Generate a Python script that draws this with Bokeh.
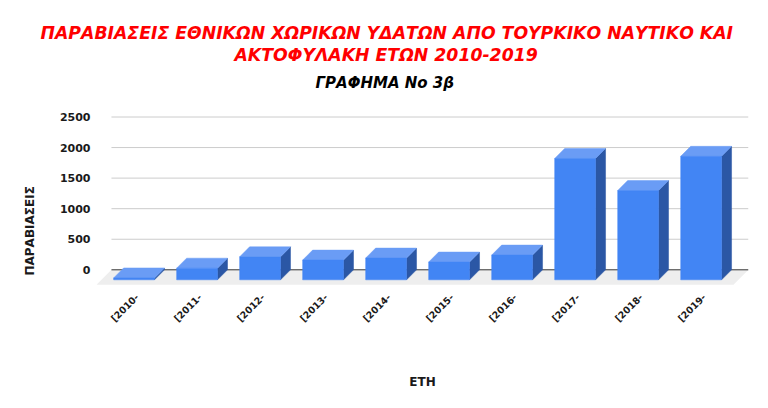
import math
from bokeh.plotting import figure
from bokeh.models import FixedTicker, Title
from bokeh.embed import file_html
from bokeh.resources import INLINE

# ---- data ----
categories = ["[2010-", "[2011-", "[2012-", "[2013-", "[2014-",
              "[2015-", "[2016-", "[2017-", "[2018-", "[2019-"]
values = [30, 190, 376, 322, 355, 290, 404, 1985, 1460, 2020]
y_ticks = [0, 500, 1000, 1500, 2000, 2500]

title_line1 = "ΠΑΡΑΒΙΑΣΕΙΣ ΕΘΝΙΚΩΝ ΧΩΡΙΚΩΝ ΥΔΑΤΩΝ ΑΠΟ ΤΟΥΡΚΙΚΟ ΝΑΥΤΙΚΟ ΚΑΙ"
title_line2 = "ΑΚΤΟΦΥΛΑΚΗ ΕΤΩΝ 2010-2019"
subtitle = "ΓΡΑΦΗΜΑ  Νο 3β"
y_title = "ΠΑΡΑΒΙΑΣΕΙΣ"
x_title = "ΕΤΗ"

# ---- layout ----
W, H = 768, 408
FW, FH = 654, 187
BL, BT = 94, 98
BR = W - BL - FW
BB = H - BT - FH
PXC = 63.2                      # pixels per category
X0 = (94 - 134.7) / PXC
X1 = X0 + FW / PXC
PXY = (269.3 - 116.5) / 2500    # pixels per unit
Y0 = -(285 - 269.3) / PXY
Y1 = Y0 + FH / PXY

FRONT = "#4285F4"
TOP = "#6A9CF5"
SIDE = "#2B57A5"
FLOOR = "#EEEEEE"
GRID = "#CCCCCC"
BASE = "#333333"
FONT = "DejaVu Sans"
TXT = "#1a1a1a"

p = figure(width=W, height=H, x_range=(X0, X1), y_range=(Y0, Y1),
           output_backend="svg", toolbar_location=None,
           min_border_left=BL, min_border_right=BR,
           min_border_top=BT, min_border_bottom=BB)
p.outline_line_color = None
p.xgrid.visible = False
p.ygrid.visible = False
p.background_fill_color = "white"

# the figure's own title is the outermost line
p.title.text = title_line1
p.title.align = "left"
p.title.offset = -56
p.title.standoff = 0
p.title.text_font = FONT
p.title.text_font_style = "bold italic"
p.title.text_font_size = "17.3px"
p.title.text_color = "#FF0000"

# added titles stack outward from the frame: subtitle first, then line 2
def add_title(text, size, color, offset, standoff=0):
    p.add_layout(Title(text=text, align="left", offset=offset, standoff=standoff,
                       text_font=FONT, text_font_style="bold italic",
                       text_font_size=size, text_color=color), "above")

add_title(subtitle, "15px", "#000000", 219, standoff=14)
add_title(title_line2, "17.3px", "#FF0000", 138)

px_x = FW / (X1 - X0)
px_y = FH / (Y1 - Y0)

bshift = 7 / px_x          # bar back-face centre relative to its label tick
hw = 20.5 / px_x
dx = 10 / px_x
dy = 10 / px_y
back_left = bshift - 32.7 / px_x
back_right = X1
fdx = 15 / px_x
fdy = 15 / px_y

# floor
p.patch([back_left, back_right, back_right - fdx, back_left - fdx],
        [0, 0, -fdy, -fdy], fill_color=FLOOR, line_color=None)

# gridlines and baseline
gt = [t for t in y_ticks if t > 0]
p.segment(x0=[back_left] * len(gt), y0=gt, x1=[back_right] * len(gt), y1=gt,
          line_color=GRID, line_width=1)
p.segment(x0=[back_left], y0=[0], x1=[back_right], y1=[0],
          line_color=BASE, line_width=1)

# 3D bars
front_xs, front_ys, top_xs, top_ys, side_xs, side_ys = [], [], [], [], [], []
for i, v in enumerate(values):
    c = i + bshift
    front_xs.append([c - hw - dx, c + hw - dx, c + hw - dx, c - hw - dx])
    front_ys.append([-dy, -dy, v - dy, v - dy])
    top_xs.append([c - hw - dx, c + hw - dx, c + hw, c - hw])
    top_ys.append([v - dy, v - dy, v, v])
    side_xs.append([c + hw - dx, c + hw, c + hw, c + hw - dx])
    side_ys.append([-dy, 0, v, v - dy])

p.patches(side_xs, side_ys, fill_color=SIDE, line_color=SIDE, line_width=0.5)
p.patches(top_xs, top_ys, fill_color=TOP, line_color=TOP, line_width=0.5)
p.patches(front_xs, front_ys, fill_color=FRONT, line_color=FRONT, line_width=0.5)

# y axis
p.yaxis.ticker = FixedTicker(ticks=y_ticks)
p.yaxis.axis_line_color = None
p.yaxis.major_tick_line_color = None
p.yaxis.minor_tick_line_color = None
p.yaxis.major_tick_out = 0
p.yaxis.major_tick_in = 0
p.yaxis.major_label_standoff = 6
p.yaxis.major_label_text_font = FONT
p.yaxis.major_label_text_font_style = "bold"
p.yaxis.major_label_text_font_size = "11px"
p.yaxis.major_label_text_color = TXT

p.add_layout(Title(text=y_title, align="left", offset=10, standoff=40,
                   text_font=FONT, text_font_style="bold",
                   text_font_size="12px", text_color=TXT), "left")

# x axis
p.xaxis.ticker = FixedTicker(ticks=list(range(len(categories))))
p.xaxis.major_label_overrides = {i: c for i, c in enumerate(categories)}
p.xaxis.major_label_orientation = math.pi / 4
p.xaxis.axis_line_color = None
p.xaxis.major_tick_line_color = None
p.xaxis.minor_tick_line_color = None
p.xaxis.major_tick_out = 0
p.xaxis.major_tick_in = 0
p.xaxis.major_label_standoff = 10
p.xaxis.major_label_text_font = FONT
p.xaxis.major_label_text_font_style = "bold"
p.xaxis.major_label_text_font_size = "9.5px"
p.xaxis.major_label_text_color = TXT
p.xaxis.axis_label = x_title
p.xaxis.axis_label_standoff = 44
p.xaxis.axis_label_text_font = FONT
p.xaxis.axis_label_text_font_style = "bold"
p.xaxis.axis_label_text_font_size = "12px"
p.xaxis.axis_label_text_color = TXT

open("out.html", "w").write(file_html(p, INLINE))
